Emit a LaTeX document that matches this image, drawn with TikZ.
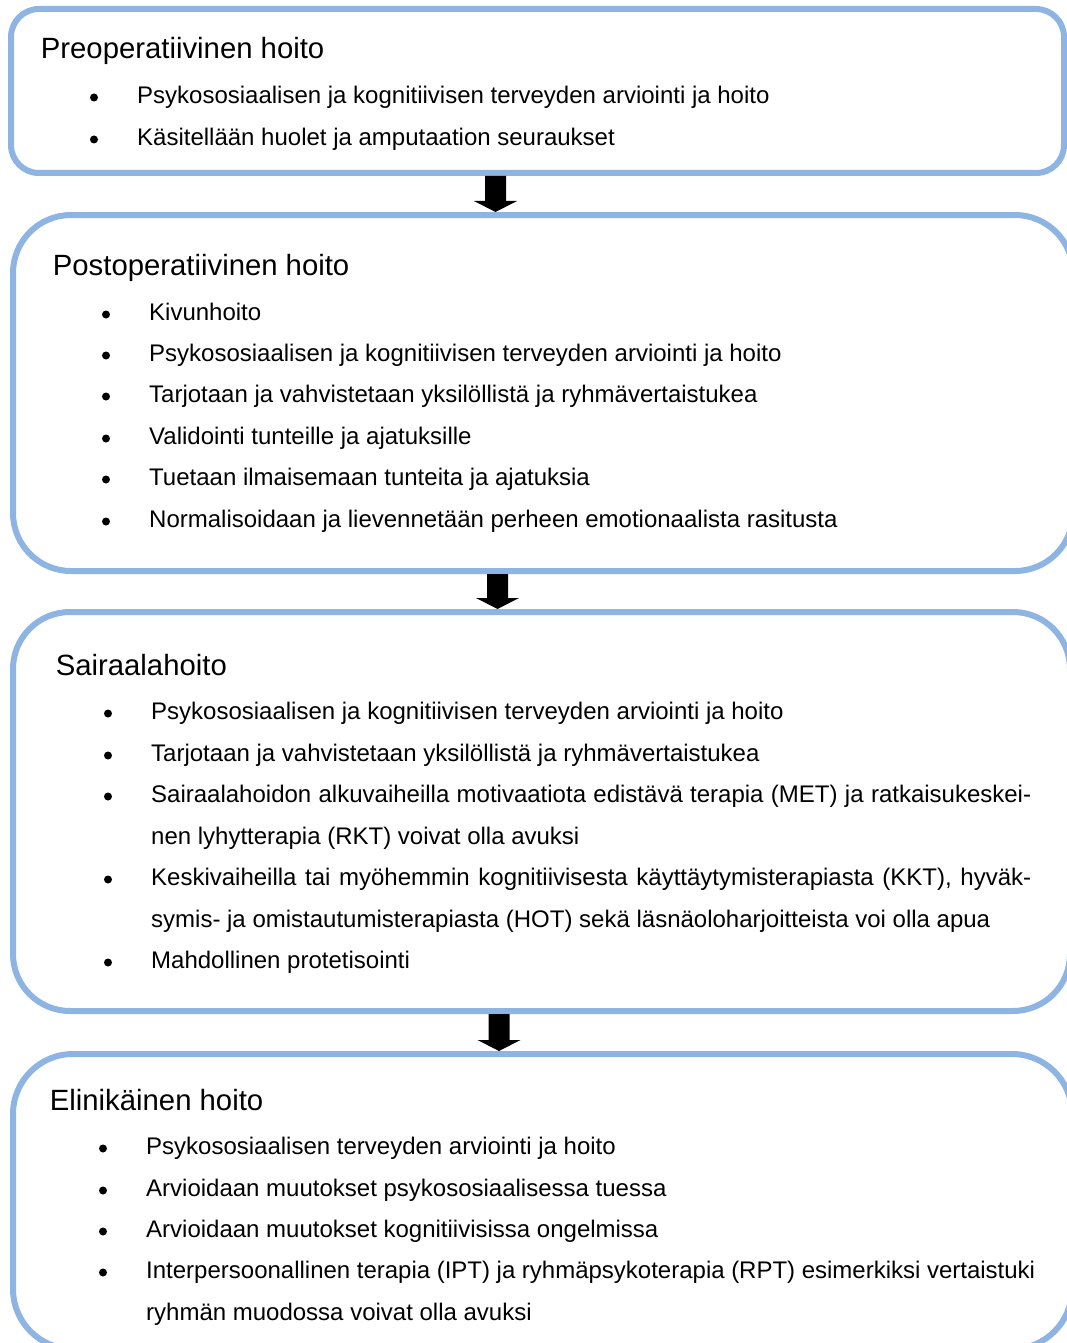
\documentclass[tikz,border=0pt]{standalone}
\usepackage{fontspec}
\setmainfont{Liberation Sans}
\usetikzlibrary{calc}
\definecolor{boxblue}{RGB}{141,180,226}
\begin{document}
\begin{tikzpicture}[x=1pt,y=-1pt,
  box/.style={draw=boxblue, line width=6pt, rectangle, inner sep=0pt, anchor=north west},
  heading/.style={anchor=base west, inner sep=0pt, font=\fontsize{29.3}{35}\selectfont, xshift=2pt, yshift=-1pt},
  item/.style={anchor=base west, inner sep=0pt, font=\fontsize{24}{29}\selectfont, xshift=1.5pt, yshift=-1.5pt},
  dot/.style={circle, fill=black, inner sep=0pt, minimum size=8pt, yshift=-1pt},
  blockarrow/.style={to path={let \p1=(\tikztostart), \p2=(\tikztotarget) in
     (\x1-10.5pt,\y1) -- (\x1+10.5pt,\y1) -- (\x1+10.5pt,\y2+11pt) -- (\x1+21.5pt,\y2+11pt)
     -- (\x2,\y2) -- (\x1-21.5pt,\y2+11pt) -- (\x1-10.5pt,\y2+11pt) -- cycle}}
]
\useasboundingbox (0,0) rectangle (1067,1343);

% boxes
\node[box, rounded corners=28pt, minimum width=1053pt, minimum height=164pt] (b1) at (8,6) {};
\node[box, rounded corners=58pt, minimum width=1060pt, minimum height=356pt] (b2) at (10,212) {};
\node[box, rounded corners=57pt, minimum width=1057pt, minimum height=399pt] (b3) at (10,609) {};
\node[box, rounded corners=60pt, minimum width=1059pt, minimum height=295pt] (b4) at (10,1051) {};

% arrows
\coordinate (a1s) at (495.5,0 |- b1.south);
\coordinate (a1e) at (495.5,0 |- b2.north);
\coordinate (a2s) at (497.5,0 |- b2.south);
\coordinate (a2e) at (497.5,0 |- b3.north);
\coordinate (a3s) at (499,0 |- b3.south);
\coordinate (a3e) at (499,0 |- b4.north);
\fill[black] (a1s) to[blockarrow] (a1e);
\fill[black] (a2s) to[blockarrow] (a2e);
\fill[black] (a3s) to[blockarrow] (a3e);

% box 1
\node[heading] (t1) at (38.7,58) {Preoperatiivinen hoito};
\node[dot] (d11) at (94,96.5) {};
\node[item] (i11) at (135.5,102) {Psykososiaalisen ja kognitiivisen terveyden arviointi ja hoito};
\node[dot] (d12) at (94,138.5) {};
\node[item] (i12) at (135.5,144) {Käsitellään huolet ja amputaation seuraukset};

% box 2
\node[heading] (t2) at (50.7,274) {Postoperatiivinen hoito};
\node[dot] (d21) at (106,313.5) {};
\node[item] (i21) at (147.5,319) {Kivunhoito};
\node[dot] (d22) at (106,354.5) {};
\node[item] (i22) at (147.5,360) {Psykososiaalisen ja kognitiivisen terveyden arviointi ja hoito};
\node[dot] (d23) at (106,395.5) {};
\node[item] (i23) at (147.5,401) {Tarjotaan ja vahvistetaan yksilöllistä ja ryhmävertaistukea};
\node[dot] (d24) at (106,437.5) {};
\node[item] (i24) at (147.5,443) {Validointi tunteille ja ajatuksille};
\node[dot] (d25) at (106,478.5) {};
\node[item] (i25) at (147.5,484) {Tuetaan ilmaisemaan tunteita ja ajatuksia};
\node[dot] (d26) at (106,520.5) {};
\node[item] (i26) at (147.5,526) {Normalisoidaan ja lievennetään perheen emotionaalista rasitusta};

% box 3
\node[heading] (t3) at (53.6,674) {Sairaalahoito};
\node[dot] (d31) at (108,712.5) {};
\node[item] (i31) at (149.5,718) {Psykososiaalisen ja kognitiivisen terveyden arviointi ja hoito};
\node[dot] (d32) at (108,754.5) {};
\node[item] (i32) at (149.5,760) {Tarjotaan ja vahvistetaan yksilöllistä ja ryhmävertaistukea};
\node[dot] (d33) at (108,795.5) {};
\node[item] (i33) at (149.5,801) {\makebox[880pt][s]{Sairaalahoidon alkuvaiheilla motivaatiota edistävä terapia (MET) ja ratkaisukeskei-}};
\node[item] (i33b) at (149.5,843) {nen lyhytterapia (RKT) voivat olla avuksi};
\node[dot] (d34) at (108,878.5) {};
\node[item] (i34) at (149.5,884) {\makebox[880pt][s]{Keskivaiheilla tai myöhemmin kognitiivisesta käyttäytymisterapiasta (KKT), hyväk-}};
\node[item] (i34b) at (149.5,926) {symis- ja omistautumisterapiasta (HOT) sekä läsnäoloharjoitteista voi olla apua};
\node[dot] (d35) at (108,961.5) {};
\node[item] (i35) at (149.5,967) {Mahdollinen protetisointi};

% box 4
\node[heading] (t4) at (47.7,1109) {Elinikäinen hoito};
\node[dot] (d41) at (103,1147.5) {};
\node[item] (i41) at (144.5,1153) {Psykososiaalisen terveyden arviointi ja hoito};
\node[dot] (d42) at (103,1189.5) {};
\node[item] (i42) at (144.5,1195) {Arvioidaan muutokset psykososiaalisessa tuessa};
\node[dot] (d43) at (103,1230.5) {};
\node[item] (i43) at (144.5,1236) {Arvioidaan muutokset kognitiivisissa ongelmissa};
\node[dot] (d44) at (103,1271.5) {};
\node[item] (i44) at (144.5,1277) {\makebox[889pt][s]{Interpersoonallinen terapia (IPT) ja ryhmäpsykoterapia (RPT) esimerkiksi vertaistuki}};
\node[item] (i44b) at (144.5,1319) {ryhmän muodossa voivat olla avuksi};
\end{tikzpicture}
\end{document}
